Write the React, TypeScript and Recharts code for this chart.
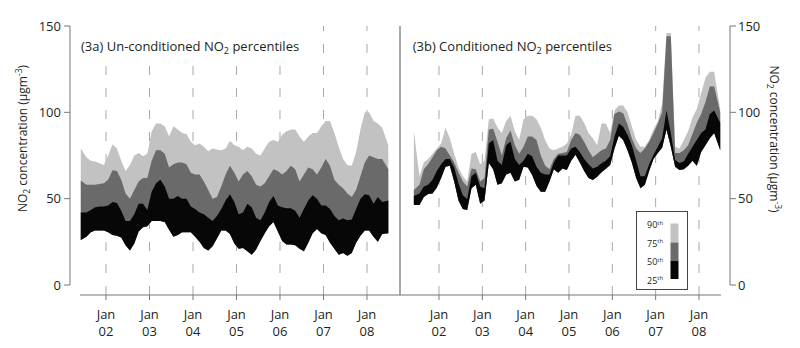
import React from "react";
import { ComposedChart, Area, XAxis, YAxis, ReferenceLine, ReferenceArea, Legend } from "recharts";

const FONT = "'Open Sans', 'DejaVu Sans', sans-serif";
const INK = "#231f20";
const AXIS = "#777";
const GRID = "#a9a9a9";
const C25 = "#070707";
const C50 = "#6a6a6a";
const C75 = "#c2c2c2";

// decimal years, roughly every 5 weeks
const years = [
  2001.42, 2001.55, 2001.65, 2001.75, 2001.85, 2001.95,
  2002.05, 2002.15, 2002.25, 2002.35, 2002.45, 2002.55, 2002.65, 2002.75, 2002.85, 2002.95,
  2003.05, 2003.15, 2003.25, 2003.35, 2003.45, 2003.55, 2003.65, 2003.75, 2003.85, 2003.95,
  2004.05, 2004.15, 2004.25, 2004.35, 2004.45, 2004.55, 2004.65, 2004.75, 2004.85, 2004.95,
  2005.05, 2005.15, 2005.25, 2005.35, 2005.45, 2005.55, 2005.65, 2005.75, 2005.85, 2005.95,
  2006.05, 2006.15, 2006.25, 2006.35, 2006.45, 2006.55, 2006.65, 2006.75, 2006.85, 2006.95,
  2007.05, 2007.15, 2007.25, 2007.35, 2007.45, 2007.55, 2007.65, 2007.75, 2007.85, 2007.95,
  2008.05, 2008.15, 2008.25, 2008.35, 2008.49,
];
const janTicks = [2002, 2003, 2004, 2005, 2006, 2007, 2008];
const yTicks = [0, 50, 100, 150];
const legendLabels = ["90", "75", "50", "25"];

// (3a) un-conditioned percentiles
const unc25 = [26, 28, 30.5, 31.5, 31.5, 31.5, 30.5, 29, 28.5, 27.5, 23, 20, 24, 31, 33.5, 34, 37, 37, 37, 36.5, 32, 28, 29, 30.5, 30.5, 30.5, 28, 25, 21.5, 20, 22.5, 27, 31.5, 31.5, 29.5, 24, 21, 21.5, 19.5, 17.5, 20.5, 25.5, 30, 34, 36.5, 31, 25.5, 23.5, 23.5, 23, 21, 19.5, 24.5, 30, 32.5, 30, 29, 24.5, 21, 17.5, 18.5, 17, 18.5, 24.5, 28.5, 31.5, 31.5, 28, 25, 29.5, 30];
const unc50 = [42, 42, 43.5, 45, 45.5, 45.5, 46, 48, 47.5, 43, 37, 37, 41, 47, 47, 43.5, 54, 59, 61, 57, 50, 50, 51.5, 50, 50, 45.5, 44, 42, 41, 39, 37, 40, 44, 49, 52.5, 48, 41, 42, 47, 45, 39, 37.5, 42, 48, 51.5, 46, 45, 44.5, 44.5, 43, 39, 44, 49, 52, 50, 46, 46, 44, 40, 37.5, 38.5, 37.5, 38, 44, 50, 52.5, 52, 47, 51, 48, 49];
const unc75 = [60.5, 58, 58, 58, 58.5, 59, 61, 66.5, 66, 61, 53, 50, 55, 60, 62, 62, 72, 78, 78, 76, 68, 70, 71, 71, 70, 65, 64, 64, 60, 55, 50, 51, 57, 64, 69, 65, 60, 64, 66, 63, 58, 57, 59, 63, 67, 66, 64, 66, 69, 67, 60, 64, 68, 67, 64, 68, 73, 69, 61, 58, 56, 53, 51, 55, 63, 71, 75, 74, 73, 73, 67];
const unc90 = [79, 74, 72, 71.5, 70.5, 69.5, 75, 81.5, 79, 72, 66, 69.5, 75, 76.5, 74.5, 76, 89, 93.6, 93.6, 92, 86, 92, 90, 88, 87.5, 83, 81, 82, 80, 77.5, 79, 78.5, 78, 79, 83.5, 81, 80, 78, 80, 79, 76, 75, 79, 83, 84, 83, 87, 89, 90, 90, 86, 83, 86, 88, 88, 92, 95, 95, 88, 80, 73, 69.5, 69, 77, 90, 100, 100, 95, 93.5, 91, 81];

// (3b) conditioned percentiles
const con25 = [46.3, 46.3, 51, 52.7, 53, 56.5, 62, 68.5, 69, 60, 49, 44, 43.4, 56, 58, 47, 49, 70.6, 67, 58, 59, 64, 65, 60, 61, 68.5, 68, 63.7, 57.5, 54, 54, 60, 67, 65, 67.5, 66.6, 72, 75.5, 71, 66, 62, 60.8, 62.7, 65.3, 67.3, 69.5, 79, 86.5, 84, 78, 71, 62, 56, 58, 66, 73, 76.4, 79.5, 90, 80, 68.5, 66.6, 67, 69, 72, 69, 77, 81, 85, 88, 78];
const con50 = [51.5, 53, 57, 58, 61, 66, 70, 73, 73, 68, 59, 52, 49.8, 63, 65, 57, 56, 82, 84, 72, 69.5, 81, 83, 73, 69.5, 72, 76, 74.5, 68.5, 65, 64, 64, 71, 75, 75, 75, 79, 80, 77, 73, 70, 67.5, 68.5, 70.5, 72, 74.5, 86, 93.5, 91.7, 87, 81, 72, 63, 63, 70, 75.5, 80, 85, 101, 88, 72.4, 70.6, 71.5, 76, 80, 84, 88, 90, 99, 101, 94];
const con75 = [55, 58, 67, 70, 74, 78, 80, 79, 75, 71, 65, 60, 57, 67.5, 67, 60, 62, 90, 90.5, 83, 75, 85, 89.5, 81, 76, 80, 86, 86, 84, 75, 69, 67, 73, 76, 76.5, 77, 84, 88, 87, 83, 78, 74, 76, 78, 79, 84, 99, 100.5, 99.5, 93, 85, 79, 76.5, 79, 83, 88, 93.5, 100, 144, 144, 76.5, 76.5, 78, 81, 87.5, 94, 99, 106, 115, 115, 100];
const con90 = [89, 63, 71, 73, 76, 79, 82, 91, 85, 76, 68, 63, 60, 76, 77, 70, 72, 96, 96.5, 91, 88, 95, 98, 89, 84, 96, 98, 98, 96, 91, 84, 79, 78, 79, 80, 82, 87, 98, 98, 94, 88, 85, 81, 93.6, 93.6, 88, 101, 104, 104, 100, 92, 84, 80, 80, 84, 90, 95, 105, 146, 146, 80, 79, 84, 89, 97, 102, 111, 120, 123.5, 123.5, 102];

function toRows(p25: number[], p50: number[], p75: number[], p90: number[]) {
  return years.map((t, i) => ({
    t,
    low: [p25[i], p50[i]],
    mid: [p25[i], p75[i]],
    high: [p25[i], p90[i]],
  }));
}

const uncRows = toRows(unc25, unc50, unc75, unc90);
const conRows = toRows(con25, con50, con75, con90);

const JanTick = (props: any) => {
  const { x, y, payload } = props;
  return (
    <text x={x} y={y} textAnchor="middle" fontSize={13} fill={INK} fontFamily={FONT}>
      <tspan x={x} dy={19}>Jan</tspan>
      <tspan x={x} dy={17}>{String(payload.value).slice(2)}</tspan>
    </text>
  );
};

const LeftTick = (props: any) => {
  const { x, y, payload } = props;
  return (
    <g>
      <line x1={x - 16} x2={x - 10} y1={y} y2={y} stroke={AXIS} />
      <text x={x - 19} y={y} dy={4.5} textAnchor="end" fontSize={13} fill={INK} fontFamily={FONT}>
        {payload.value}
      </text>
    </g>
  );
};

const RightTick = (props: any) => {
  const { x, y, payload } = props;
  return (
    <g>
      <line x1={x + 9} x2={x + 15} y1={y} y2={y} stroke={AXIS} />
      <text x={x + 17} y={y} dy={4.5} textAnchor="start" fontSize={13} fill={INK} fontFamily={FONT}>
        {payload.value}
      </text>
    </g>
  );
};

const axisTitle = (cx: number, cy: number, angle: number) => () => (
  <text
    x={cx}
    y={cy}
    transform={`rotate(${angle} ${cx} ${cy})`}
    textAnchor="middle"
    fontSize={12}
    fill={INK}
    fontFamily={FONT}
  >
    NO<tspan fontSize={8.5} dy={3}>2</tspan>
    <tspan dy={-3}> concentration (µgm</tspan>
    <tspan fontSize={8.5} dy={-5}>-3</tspan>
    <tspan dy={5}>)</tspan>
  </text>
);

const panelTitle = (label: string, x: number) => () => (
  <text x={x} y={50.5} fontSize={13} fill={INK} fontFamily={FONT}>
    {label} NO<tspan fontSize={9} dy={3}>2</tspan>
    <tspan dy={-3}> percentiles</tspan>
  </text>
);

const LegendBox = () => (
  <svg width={52} height={79} style={{ display: "block" }} fontFamily={FONT}>
    <rect x={0.5} y={0.5} width={51} height={78} fill="#fff" stroke="#444" />
    {legendLabels.map((l, i) => (
      <text key={l} x={11} y={17 + i * 18.5} fontSize={9} fill={INK}>
        {l}
        <tspan fontSize={6} dy={-3.5}>th</tspan>
      </text>
    ))}
    <rect x={34.5} y={12.5} width={8} height={19} fill={C75} />
    <rect x={34.5} y={31.5} width={8} height={18.5} fill={C50} />
    <rect x={34.5} y={50} width={8} height={18} fill={C25} />
  </svg>
);

function Panel({ side }: { side: "left" | "right" }) {
  const left = side === "left";
  const rows = left ? uncRows : conRows;
  const domain: [number, number] = left ? [2001.402, 2008.759] : [2001.1, 2008.508];
  const axisX = left ? 2001.172 : 2008.716;
  const titleEnd = left ? 2006.51 : 2006.41;
  return (
    <ComposedChart
      width={left ? 400 : 401}
      height={348}
      data={rows}
      margin={{ top: 26, right: 0, bottom: 0, left: left ? 0 : 1 }}
    >
      <XAxis
        dataKey="t"
        type="number"
        domain={domain}
        allowDataOverflow
        ticks={janTicks}
        interval={0}
        height={53}
        tickSize={5}
        tickMargin={0}
        stroke={AXIS}
        tick={<JanTick />}
      />
      <YAxis
        type="number"
        domain={[0, 150]}
        allowDataOverflow
        ticks={yTicks}
        interval={0}
        orientation={left ? "left" : "right"}
        width={left ? 80 : 79}
        padding={{ top: 0, bottom: 10 }}
        axisLine={false}
        tickLine={false}
        tickSize={0}
        tickMargin={0}
        tick={left ? <LeftTick /> : <RightTick />}
        label={{ content: left ? axisTitle(27, 138.5, -90) : axisTitle(371, 139, 90) }}
      />
      {janTicks.map((t) => (
        <ReferenceLine key={t} x={t} stroke={GRID} strokeDasharray="9 13" zIndex={-10} />
      ))}
      <ReferenceArea
        x1={domain[0]}
        x2={titleEnd}
        y1={132}
        y2={150}
        fill="#fff"
        fillOpacity={1}
        stroke="none"
        label={{
          content: left
            ? panelTitle("(3a) Un-conditioned", 81)
            : panelTitle("(3b) Conditioned", 13.7),
        }}
      />
      <Area dataKey="high" type="linear" stroke="none" fill={C75} fillOpacity={1} isAnimationActive={false} dot={false} activeDot={false} />
      <Area dataKey="mid" type="linear" stroke="none" fill={C50} fillOpacity={1} isAnimationActive={false} dot={false} activeDot={false} />
      <Area dataKey="low" type="linear" stroke="none" fill={C25} fillOpacity={1} isAnimationActive={false} dot={false} activeDot={false} />
      <ReferenceLine
        segment={[{ x: axisX, y: 0 }, { x: axisX, y: 150 }]}
        ifOverflow="visible"
        stroke={AXIS}
      />
      {!left && <ReferenceLine x={domain[0]} ifOverflow="visible" stroke="#555" />}
      {!left && (
        <Legend
          content={<LegendBox />}
          layout="horizontal"
          verticalAlign="middle"
          align="center"
          wrapperStyle={{ left: 236.5, top: 211, width: 52, height: 79 }}
        />
      )}
    </ComposedChart>
  );
}

export default function App() {
  return (
    <div
      style={{
        position: "absolute",
        left: 0,
        top: 0,
        width: 800,
        height: 348,
        background: "#fff",
        fontFamily: FONT,
      }}
    >
      <div style={{ position: "absolute", left: 0, top: 0 }}>
        <Panel side="left" />
      </div>
      <div style={{ position: "absolute", left: 399, top: 0 }}>
        <Panel side="right" />
      </div>
    </div>
  );
}
